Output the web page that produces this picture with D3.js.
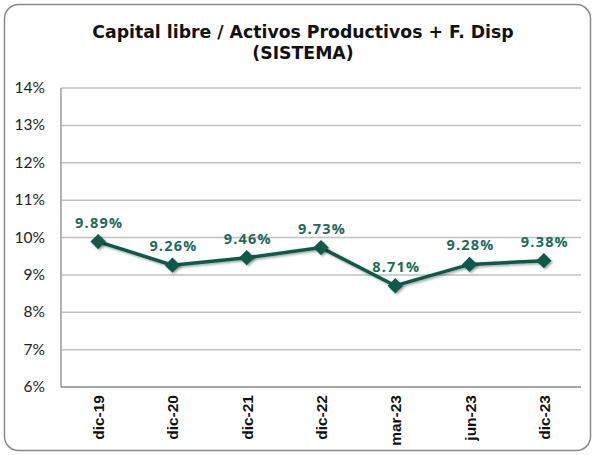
<!DOCTYPE html>
<html><head><meta charset="utf-8">
<script src="https://cdn.jsdelivr.net/npm/d3@7"></script>
<style>html,body{margin:0;padding:0;background:#fff;}</style>
</head><body>
<svg id="c" width="595" height="455"></svg>
<script>
const categories = ["dic-19","dic-20","dic-21","dic-22","mar-23","jun-23","dic-23"];
const values = [9.89, 9.26, 9.46, 9.73, 8.71, 9.28, 9.38];
const yTicks = [6,7,8,9,10,11,12,13,14];
const titleLines = ["Capital libre / Activos Productivos + F. Disp", "(SISTEMA)"];

const svg = d3.select("#c");
const W = 595, H = 455;
const m = {left:61, right:14, top:88, bottom:68};
const x = d3.scaleBand().domain(categories).range([m.left, W-m.right]);
const y = d3.scaleLinear().domain([6,14]).range([H-m.bottom, m.top]);

const defs = svg.append("defs");
const f = defs.append("filter").attr("id","sh").attr("x","-50%").attr("y","-50%").attr("width","200%").attr("height","200%");
f.append("feDropShadow").attr("dx",1.5).attr("dy",1.5).attr("stdDeviation",1.2).attr("flood-color","#000").attr("flood-opacity",0.35);

svg.append("rect").attr("x",4.5).attr("y",4.5).attr("width",586).attr("height",446)
  .attr("rx",14).attr("fill","#fff").attr("stroke","#8a8a8a").attr("stroke-width",1.5);

svg.append("g").selectAll("text").data(titleLines).join("text")
  .attr("x",303).attr("y",(d,i)=>38+i*21).attr("text-anchor","middle")
  .attr("font-family","'DejaVu Sans', sans-serif").attr("font-weight","bold").attr("font-size",17.3)
  .attr("fill","#111").text(d=>d);

// gridlines
svg.append("g").selectAll("line").data(yTicks.filter(t=>t>6)).join("line")
  .attr("x1",m.left).attr("x2",W-m.right).attr("y1",d=>y(d)).attr("y2",d=>y(d))
  .attr("stroke","#c0c0c0").attr("stroke-width",1.5);

// axes
svg.append("line").attr("x1",m.left).attr("x2",m.left).attr("y1",m.top).attr("y2",y(6))
  .attr("stroke","#9a9a9a").attr("stroke-width",1.5);
svg.append("line").attr("x1",m.left).attr("x2",W-m.right).attr("y1",y(6)).attr("y2",y(6))
  .attr("stroke","#8a8a8a").attr("stroke-width",1.5);

svg.append("g").selectAll("text").data(yTicks).join("text")
  .attr("x",45).attr("y",d=>y(d)+5).attr("text-anchor","end")
  .attr("font-family","'Lato', sans-serif").attr("font-size",15.5).attr("fill","#222")
  .text(d=>d+"%");

svg.append("g").selectAll("text").data(categories).join("text")
  .attr("transform",d=>`translate(${x(d)+x.bandwidth()/2+6},395) rotate(-90)`)
  .attr("text-anchor","end")
  .attr("font-family","'Liberation Sans', Arial, sans-serif").attr("font-weight","bold").attr("font-size",15.5)
  .attr("fill","#111").text(d=>d);

const cx = (d,i)=>x(categories[i])+x.bandwidth()/2;
const line = d3.line().x((d,i)=>cx(d,i)).y(d=>y(d));
svg.append("path").datum(values).attr("d",line).attr("fill","none")
  .attr("stroke","#0f5a4c").attr("stroke-width",3.5).attr("filter","url(#sh)");

svg.append("g").selectAll("path").data(values).join("path")
  .attr("d",d3.symbol().type(d3.symbolDiamond2).size(150)())
  .attr("transform",(d,i)=>`translate(${cx(d,i)},${y(d)})`)
  .attr("fill","#0f5a4c").attr("filter","url(#sh)");

svg.append("g").selectAll("text").data(values).join("text")
  .attr("x",(d,i)=>cx(d,i)+1).attr("y",d=>y(d)-14).attr("text-anchor","middle")
  .attr("font-family","'Open Sans', sans-serif").attr("font-weight","bold").attr("font-size",14.5)
  .attr("letter-spacing",1.2)
  .attr("fill","#1c6b5c").text(d=>d.toFixed(2)+"%");
</script>
</body></html>
